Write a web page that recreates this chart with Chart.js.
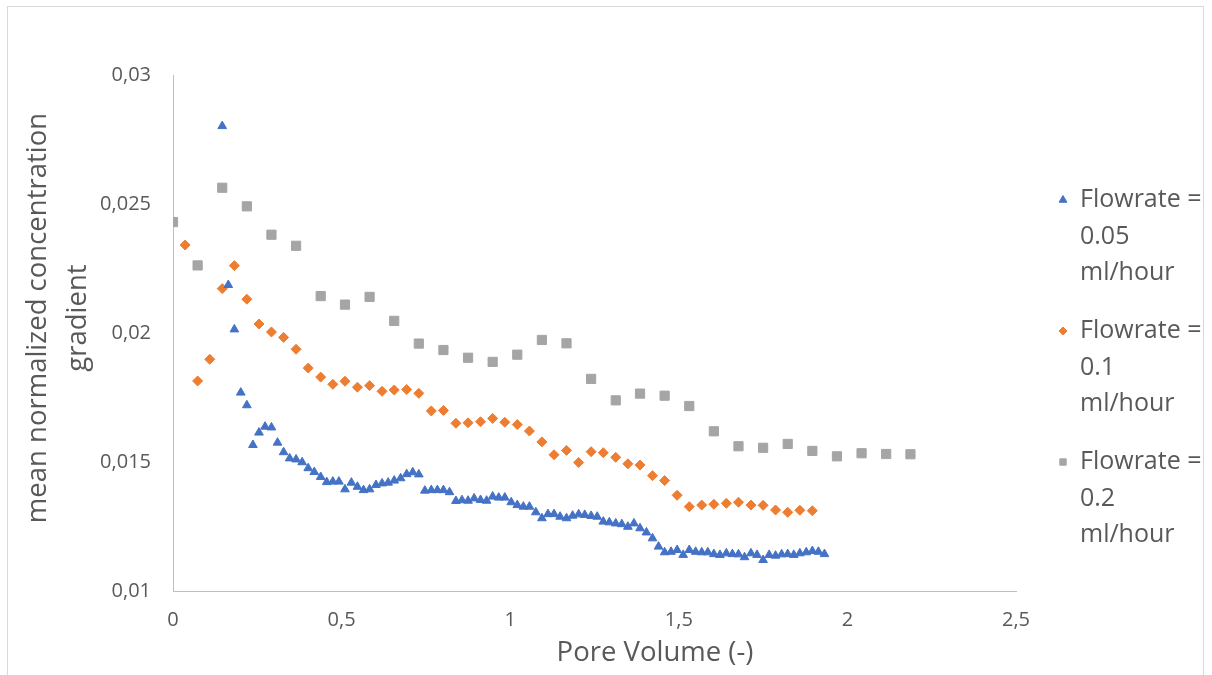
<!DOCTYPE html>
<html>
<head>
<meta charset="utf-8">
<title>Mean normalized concentration gradient vs pore volume</title>
<script src="https://cdn.jsdelivr.net/npm/chart.js"></script>
<style>
  html, body { margin: 0; padding: 0; background: #fff; }
  #wrap { position: relative; width: 1212px; height: 675px; overflow: hidden; }
  #frame {
    position: absolute; left: 7px; top: 6px; width: 1197px; height: 690px;
    border: 1px solid #d9d9d9; box-sizing: border-box;
  }
  #chart { position: absolute; left: 0; top: 0; }
</style>
</head>
<body>
<div id="wrap">
  <div id="frame"></div>
  <canvas id="chart" width="1212" height="675"></canvas>
</div>
<script>
/* ── Data ──────────────────────────────────── */

const X_TICK_LABELS = ['0', '0,5', '1', '1,5', '2', '2,5'];
const Y_TICK_LABELS = ['0,01', '0,015', '0,02', '0,025', '0,03'];

const X_TITLE = 'Pore Volume (-)';
const Y_TITLE = ['mean normalized concentration', 'gradient'];

const SERIES_NAMES = [
  ['Flowrate =', '0.05', 'ml/hour'],
  ['Flowrate =', '0.1', 'ml/hour'],
  ['Flowrate =', '0.2', 'ml/hour']
];

// Flowrate = 0.05 ml/hour (triangles)
const BLUE_X = [
  0.146, 0.164, 0.182, 0.201, 0.219, 0.237, 0.255, 0.273, 0.292, 0.310,
  0.328, 0.346, 0.365, 0.383, 0.401, 0.419, 0.438, 0.456, 0.474, 0.492,
  0.510, 0.529, 0.547, 0.565, 0.583, 0.602, 0.620, 0.638, 0.656, 0.675,
  0.693, 0.711, 0.729, 0.747, 0.766, 0.784, 0.802, 0.820, 0.839, 0.857,
  0.875, 0.893, 0.912, 0.930, 0.948, 0.966, 0.984, 1.003, 1.021, 1.039,
  1.057, 1.076, 1.094, 1.112, 1.130, 1.148, 1.167, 1.185, 1.203, 1.221,
  1.240, 1.258, 1.276, 1.294, 1.313, 1.331, 1.349, 1.367, 1.385, 1.404,
  1.422, 1.440, 1.458, 1.477, 1.495, 1.513, 1.531, 1.550, 1.568, 1.586,
  1.604, 1.622, 1.641, 1.659, 1.677, 1.695, 1.714, 1.732, 1.750, 1.768,
  1.787, 1.805, 1.823, 1.841, 1.859, 1.878, 1.896, 1.914, 1.932
];
const BLUE_Y = [
  0.02802, 0.02186, 0.02014, 0.01769, 0.01720, 0.01566, 0.01614, 0.01637, 0.01634, 0.01575,
  0.01538, 0.01514, 0.01510, 0.01499, 0.01476, 0.01461, 0.01442, 0.01422, 0.01424, 0.01424,
  0.01394, 0.01420, 0.01404, 0.01391, 0.01394, 0.01411, 0.01417, 0.01420, 0.01428, 0.01437,
  0.01453, 0.01460, 0.01452, 0.01389, 0.01391, 0.01391, 0.01391, 0.01383, 0.01349, 0.01352,
  0.01350, 0.01359, 0.01353, 0.01350, 0.01366, 0.01362, 0.01362, 0.01344, 0.01333, 0.01327,
  0.01327, 0.01305, 0.01282, 0.01298, 0.01298, 0.01288, 0.01282, 0.01292, 0.01297, 0.01295,
  0.01291, 0.01288, 0.01269, 0.01266, 0.01262, 0.01259, 0.01249, 0.01262, 0.01243, 0.01227,
  0.01204, 0.01172, 0.01150, 0.01152, 0.01159, 0.01140, 0.01159, 0.01152, 0.01150, 0.01150,
  0.01143, 0.01140, 0.01146, 0.01143, 0.01142, 0.01131, 0.01146, 0.01140, 0.01120, 0.01140,
  0.01137, 0.01142, 0.01143, 0.01140, 0.01146, 0.01150, 0.01155, 0.01152, 0.01143
];

// Flowrate = 0.1 ml/hour (diamonds)
const ORANGE_X = [
  0.036, 0.073, 0.109, 0.146, 0.182, 0.219, 0.255, 0.292, 0.328, 0.365,
  0.401, 0.438, 0.474, 0.510, 0.547, 0.583, 0.620, 0.656, 0.693, 0.729,
  0.766, 0.802, 0.839, 0.875, 0.912, 0.948, 0.984, 1.021, 1.057, 1.094,
  1.130, 1.167, 1.203, 1.240, 1.276, 1.313, 1.349, 1.385, 1.422, 1.458,
  1.495, 1.531, 1.568, 1.604, 1.641, 1.677, 1.714, 1.750, 1.787, 1.823,
  1.859, 1.896
];
const ORANGE_Y = [
  0.02341, 0.01814, 0.01898, 0.02172, 0.02261, 0.02131, 0.02035, 0.02004, 0.01983, 0.01937,
  0.01864, 0.01829, 0.01801, 0.01813, 0.01790, 0.01796, 0.01774, 0.01779, 0.01781, 0.01766,
  0.01698, 0.01700, 0.01650, 0.01652, 0.01656, 0.01669, 0.01654, 0.01645, 0.01620, 0.01578,
  0.01528, 0.01545, 0.01498, 0.01540, 0.01536, 0.01518, 0.01493, 0.01488, 0.01447, 0.01428,
  0.01371, 0.01327, 0.01333, 0.01336, 0.01340, 0.01344, 0.01333, 0.01332, 0.01314, 0.01305,
  0.01313, 0.01311
];

// Flowrate = 0.2 ml/hour (squares)
const GRAY_X = [
  0.000, 0.073, 0.146, 0.219, 0.292, 0.365, 0.438, 0.510, 0.583, 0.656,
  0.729, 0.802, 0.875, 0.948, 1.021, 1.094, 1.167, 1.240, 1.313, 1.385,
  1.458, 1.531, 1.604, 1.677, 1.750, 1.823, 1.896, 1.969, 2.042, 2.115,
  2.187
];
const GRAY_Y = [
  0.02430, 0.02262, 0.02563, 0.02491, 0.02381, 0.02338, 0.02143, 0.02110, 0.02140, 0.02047,
  0.01959, 0.01934, 0.01904, 0.01888, 0.01916, 0.01973, 0.01960, 0.01822, 0.01739, 0.01765,
  0.01757, 0.01717, 0.01619, 0.01561, 0.01555, 0.01570, 0.01543, 0.01522, 0.01534, 0.01531,
  0.01530
];

// ── helpers ──────────────────────────────────
const toPoints = (xs, ys) => xs.map((x, i) => ({ x, y: ys[i] }));

const TEXT_COLOR = '#595959';
const FONT = "'Open Sans', 'Noto Sans', sans-serif";

// ── axis titles placed like the Excel original ──
const axisTitles = {
  id: 'axisTitles',
  afterDraw(chart, args, opts) {
    const ctx = chart.ctx;
    const area = chart.chartArea;
    ctx.save();
    ctx.font = `${opts.fontSize}px ${FONT}`;
    ctx.fillStyle = TEXT_COLOR;
    ctx.textAlign = 'center';
    ctx.textBaseline = 'middle';

    // x title (Excel centres it a bit right of the plot)
    ctx.fillText(X_TITLE, opts.xTitleX, opts.xTitleY);

    // y title, rotated, two lines
    ctx.translate(opts.yTitleX, (area.top + area.bottom) / 2 + opts.yShift);
    ctx.rotate(-Math.PI / 2);
    Y_TITLE.forEach((line, j) => ctx.fillText(line, 0, j * opts.lineGap));
    ctx.restore();
  }
};

// ── right-hand legend with wrapped labels ────
const sideLegend = {
  id: 'sideLegend',
  afterDraw(chart, args, opts) {
    const ctx = chart.ctx;
    ctx.save();
    ctx.font = `${opts.fontSize}px ${FONT}`;
    ctx.textBaseline = 'middle';
    ctx.textAlign = 'left';
    chart.data.datasets.forEach((ds, i) => {
      const y0 = opts.top + i * opts.entryGap;
      ctx.fillStyle = ds.backgroundColor;
      ctx.strokeStyle = ds.borderColor;
      ctx.lineWidth = 1;
      Chart.helpers.drawPoint(ctx, {
        pointStyle: ds.pointStyle,
        radius: opts.markerRadius[i],
        borderWidth: 1,
        rotation: 0
      }, opts.markerX, y0);
      ctx.fillStyle = TEXT_COLOR;
      SERIES_NAMES[i].forEach((line, j) => {
        ctx.fillText(line, opts.textX, y0 + j * opts.lineGap);
      });
    });
    ctx.restore();
  }
};

// ── chart ────────────────────────────────────
const ctx = document.getElementById('chart').getContext('2d');

new Chart(ctx, {
  type: 'scatter',
  data: {
    datasets: [
      {
        label: SERIES_NAMES[0].join(' '),
        data: toPoints(BLUE_X, BLUE_Y),
        pointStyle: 'triangle',
        pointRadius: 5,
        backgroundColor: '#4472C4',
        borderColor: '#4472C4',
        borderWidth: 1
      },
      {
        label: SERIES_NAMES[1].join(' '),
        data: toPoints(ORANGE_X, ORANGE_Y),
        pointStyle: 'rectRot',
        pointRadius: 5,
        backgroundColor: '#ED7D31',
        borderColor: '#ED7D31',
        borderWidth: 1
      },
      {
        label: SERIES_NAMES[2].join(' '),
        data: toPoints(GRAY_X, GRAY_Y),
        pointStyle: 'rect',
        pointRadius: 6.5,
        backgroundColor: '#A5A5A5',
        borderColor: '#A5A5A5',
        borderWidth: 1
      }
    ]
  },
  options: {
    responsive: false,
    animation: false,
    layout: {
      padding: { left: 10, right: 196, top: 75, bottom: 4 }
    },
    plugins: {
      legend: { display: false },
      tooltip: { enabled: false },
      axisTitles: {
        fontSize: 27.5,
        xTitleX: 655,
        xTitleY: 653,
        yTitleX: 38,
        yShift: -15,
        lineGap: 40
      },
      sideLegend: {
        fontSize: 25,
        markerX: 1063,
        textX: 1080,
        top: 200,
        entryGap: 131,
        lineGap: 36.5,
        markerRadius: [4.5, 4, 4.5]
      }
    },
    scales: {
      x: {
        type: 'linear',
        min: 0,
        max: 2.5,
        grid: { display: false, drawTicks: false },
        border: { display: true, color: '#bfbfbf', width: 1 },
        ticks: {
          stepSize: 0.5,
          padding: 17,
          color: TEXT_COLOR,
          font: { family: FONT, size: 20 },
          callback: (value, index) => X_TICK_LABELS[index]
        },
        afterFit(scale) { scale.height = 675 - 591 - 4; }
      },
      y: {
        type: 'linear',
        min: 0.01,
        max: 0.03,
        grid: { display: false, drawTicks: false },
        border: { display: true, color: '#bfbfbf', width: 1 },
        ticks: {
          stepSize: 0.005,
          padding: 22,
          color: TEXT_COLOR,
          font: { family: FONT, size: 20 },
          callback: (value, index) => Y_TICK_LABELS[index]
        },
        afterFit(scale) { scale.width = 173 - 10; }
      }
    }
  },
  plugins: [axisTitles, sideLegend]
});
</script>
</body>
</html>
